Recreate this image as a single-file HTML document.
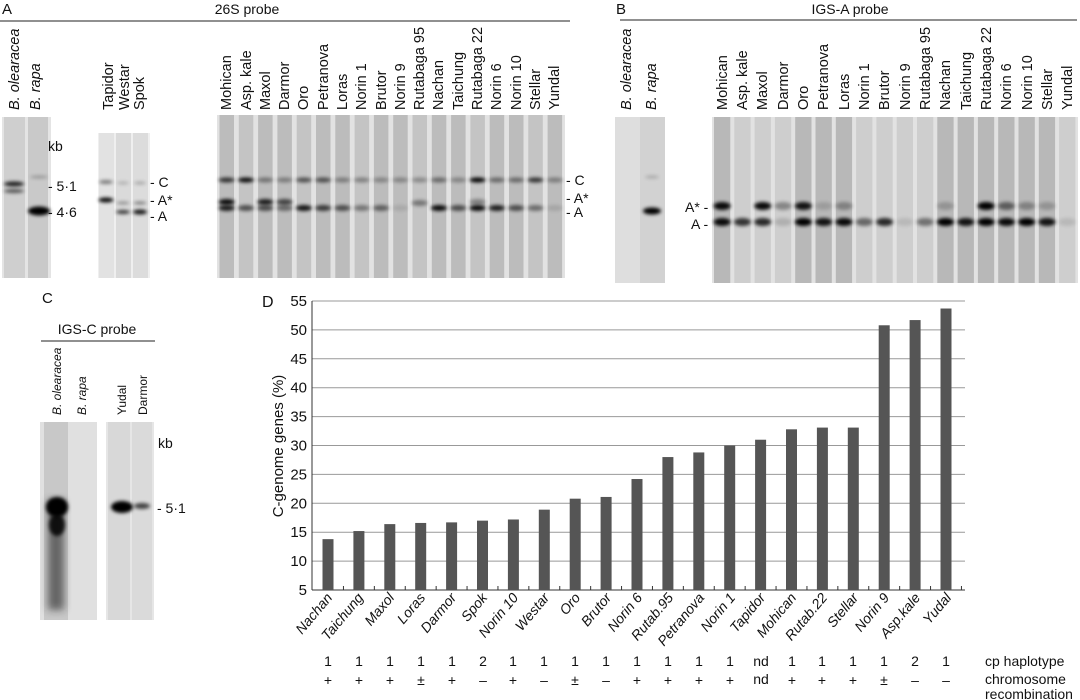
<!DOCTYPE html>
<html><head><meta charset="utf-8"><style>
html,body{margin:0;padding:0;background:#fff}
svg{display:block;font-family:"Liberation Sans",sans-serif}
</style></head><body>
<svg width="1080" height="700" viewBox="0 0 1080 700" xmlns="http://www.w3.org/2000/svg">
<defs>
<filter id="b2" x="-50%" y="-200%" width="200%" height="500%"><feGaussianBlur stdDeviation="1.8"/></filter>
<filter id="b4" x="-50%" y="-50%" width="200%" height="200%"><feGaussianBlur stdDeviation="4"/></filter>
</defs>
<g id="gels"></g>
<g id="chart"></g>
<g font-size="14" fill="#111">
<!-- Panel A -->
<text x="2" y="14" font-size="15">A</text>
<text x="247" y="14" text-anchor="middle">26S probe</text>
<line x1="0" y1="21" x2="570" y2="21" stroke="#222" stroke-width="1"/>
<g font-size="14.5">
<text transform="translate(19,110) rotate(-90)" font-style="italic">B. olearacea</text>
<text transform="translate(40,110) rotate(-90)" font-style="italic">B. rapa</text>
<text transform="translate(113,110) rotate(-90)">Tapidor</text>
<text transform="translate(129,110) rotate(-90)">Westar</text>
<text transform="translate(144,110) rotate(-90)">Spok</text>
<text transform="translate(231,110) rotate(-90)">Mohican</text>
<text transform="translate(251,110) rotate(-90)">Asp. kale</text>
<text transform="translate(270,110) rotate(-90)">Maxol</text>
<text transform="translate(289,110) rotate(-90)">Darmor</text>
<text transform="translate(308,110) rotate(-90)">Oro</text>
<text transform="translate(328,110) rotate(-90)">Petranova</text>
<text transform="translate(347,110) rotate(-90)">Loras</text>
<text transform="translate(366,110) rotate(-90)">Norin 1</text>
<text transform="translate(386,110) rotate(-90)">Brutor</text>
<text transform="translate(405,110) rotate(-90)">Norin 9</text>
<text transform="translate(424,110) rotate(-90)">Rutabaga 95</text>
<text transform="translate(443,110) rotate(-90)">Nachan</text>
<text transform="translate(463,110) rotate(-90)">Taichung</text>
<text transform="translate(482,110) rotate(-90)">Rutabaga 22</text>
<text transform="translate(501,110) rotate(-90)">Norin 6</text>
<text transform="translate(521,110) rotate(-90)">Norin 10</text>
<text transform="translate(540,110) rotate(-90)">Stellar</text>
<text transform="translate(559,110) rotate(-90)">Yundal</text>
</g>
<text x="48" y="151">kb</text>
<text x="48" y="191">- 5·1</text>
<text x="48" y="217">- 4·6</text>
<text x="150" y="187">- C</text>
<text x="150" y="205">- A*</text>
<text x="150" y="221">- A</text>
<text x="566" y="185">- C</text>
<text x="566" y="203">- A*</text>
<text x="566" y="217">- A</text>

<!-- Panel B -->
<text x="616" y="14" font-size="15">B</text>
<text x="850" y="14" text-anchor="middle">IGS-A probe</text>
<line x1="620" y1="20" x2="1077" y2="20" stroke="#222" stroke-width="1"/>
<g font-size="14.5">
<text transform="translate(631,110) rotate(-90)" font-style="italic">B. olearacea</text>
<text transform="translate(656,110) rotate(-90)" font-style="italic">B. rapa</text>
<text transform="translate(727,110) rotate(-90)">Mohican</text>
<text transform="translate(747,110) rotate(-90)">Asp. kale</text>
<text transform="translate(767,110) rotate(-90)">Maxol</text>
<text transform="translate(788,110) rotate(-90)">Darmor</text>
<text transform="translate(808,110) rotate(-90)">Oro</text>
<text transform="translate(828,110) rotate(-90)">Petranova</text>
<text transform="translate(849,110) rotate(-90)">Loras</text>
<text transform="translate(869,110) rotate(-90)">Norin 1</text>
<text transform="translate(889,110) rotate(-90)">Brutor</text>
<text transform="translate(910,110) rotate(-90)">Norin 9</text>
<text transform="translate(930,110) rotate(-90)">Rutabaga 95</text>
<text transform="translate(950,110) rotate(-90)">Nachan</text>
<text transform="translate(971,110) rotate(-90)">Taichung</text>
<text transform="translate(991,110) rotate(-90)">Rutabaga 22</text>
<text transform="translate(1011,110) rotate(-90)">Norin 6</text>
<text transform="translate(1032,110) rotate(-90)">Norin 10</text>
<text transform="translate(1052,110) rotate(-90)">Stellar</text>
<text transform="translate(1072,110) rotate(-90)">Yundal</text>
</g>
<text x="685" y="212">A* -</text>
<text x="691" y="229">A -</text>

<!-- Panel C -->
<text x="42" y="303" font-size="15">C</text>
<text x="97" y="334" text-anchor="middle">IGS-C probe</text>
<line x1="41" y1="341" x2="155" y2="341" stroke="#222" stroke-width="1"/>
<g font-size="12">
<text transform="translate(61,415) rotate(-90)" font-style="italic">B. olearacea</text>
<text transform="translate(86,415) rotate(-90)" font-style="italic">B. rapa</text>
<text transform="translate(126,415) rotate(-90)">Yudal</text>
<text transform="translate(147,415) rotate(-90)">Darmor</text>
</g>
<text x="158" y="448">kb</text>
<text x="157" y="513">- 5·1</text>

<!-- Panel D -->
<text x="262" y="307" font-size="16">D</text>
<text transform="translate(283,446) rotate(-90)" text-anchor="middle" font-size="15">C-genome genes (%)</text>
<g id="yt" text-anchor="end" font-size="15"></g>
<g font-style="italic" text-anchor="end">
<text transform="translate(333,598) rotate(-50)">Nachan</text>
<text transform="translate(364,598) rotate(-50)">Taichung</text>
<text transform="translate(395,598) rotate(-50)">Maxol</text>
<text transform="translate(426,598) rotate(-50)">Loras</text>
<text transform="translate(457,598) rotate(-50)">Darmor</text>
<text transform="translate(488,598) rotate(-50)">Spok</text>
<text transform="translate(519,598) rotate(-50)">Norin 10</text>
<text transform="translate(550,598) rotate(-50)">Westar</text>
<text transform="translate(581,598) rotate(-50)">Oro</text>
<text transform="translate(612,598) rotate(-50)">Brutor</text>
<text transform="translate(643,598) rotate(-50)">Norin 6</text>
<text transform="translate(674,598) rotate(-50)">Rutab.95</text>
<text transform="translate(705,598) rotate(-50)">Petranova</text>
<text transform="translate(736,598) rotate(-50)">Norin 1</text>
<text transform="translate(766,598) rotate(-50)">Tapidor</text>
<text transform="translate(797,598) rotate(-50)">Mohican</text>
<text transform="translate(828,598) rotate(-50)">Rutab.22</text>
<text transform="translate(859,598) rotate(-50)">Stellar</text>
<text transform="translate(890,598) rotate(-50)">Norin 9</text>
<text transform="translate(921,598) rotate(-50)">Asp.kale</text>
<text transform="translate(952,598) rotate(-50)">Yudal</text>
</g>
<g text-anchor="middle">
<text x="328" y="666">1</text><text x="359" y="666">1</text><text x="390" y="666">1</text><text x="421" y="666">1</text><text x="452" y="666">1</text><text x="483" y="666">2</text><text x="513" y="666">1</text><text x="544" y="666">1</text><text x="575" y="666">1</text><text x="606" y="666">1</text><text x="637" y="666">1</text><text x="668" y="666">1</text><text x="699" y="666">1</text><text x="730" y="666">1</text><text x="761" y="666">nd</text><text x="792" y="666">1</text><text x="822" y="666">1</text><text x="853" y="666">1</text><text x="884" y="666">1</text><text x="915" y="666">2</text><text x="946" y="666">1</text>
<text x="328" y="685">+</text><text x="359" y="685">+</text><text x="390" y="685">+</text><text x="421" y="685">±</text><text x="452" y="685">+</text><text x="483" y="685">–</text><text x="513" y="685">+</text><text x="544" y="685">–</text><text x="575" y="685">±</text><text x="606" y="685">–</text><text x="637" y="685">+</text><text x="668" y="685">+</text><text x="699" y="685">+</text><text x="730" y="685">+</text><text x="761" y="684">nd</text><text x="792" y="685">+</text><text x="822" y="685">+</text><text x="853" y="685">+</text><text x="884" y="685">±</text><text x="915" y="685">–</text><text x="946" y="685">–</text>
</g>
<text x="985" y="666">cp haplotype</text>
<text x="985" y="684">chromosome</text>
<text x="985" y="699">recombination</text>
</g>
</svg>
<script>
var NS="http://www.w3.org/2000/svg",g=document.getElementById('gels');
function el(p,t,a){var e=document.createElementNS(NS,t);for(var k in a)e.setAttribute(k,a[k]);p.appendChild(e);return e;}
function lane(x,w,y,h,c){el(g,'rect',{x:x,y:y,width:w,height:h,fill:c});}
function band(cx,cy,w,h,o){el(g,'ellipse',{cx:cx,cy:cy,rx:w/2,ry:h/2,fill:'#000',opacity:o,filter:'url(#b2)'});}
lane(2,49,117,161,'#e4e4e4');lane(4,21,117,161,'#cfcfcf');lane(28,20,117,161,'#c9c9c9');
band(14,184,20,5,.85);band(14,191,20,4,.6);band(39,177,18,3,.25);band(39,211,22,9,1);
lane(98,52,133,145,'#efefef');lane(99,15,133,145,'#e2e2e2');lane(116,15,133,145,'#dadada');lane(133,15,133,145,'#dcdcdc');
band(106,182,14,4,.45);band(106,200,15,5,.95);band(123,183,12,3,.2);band(123,203,13,3,.35);band(123,212,14,4,.75);band(140,183,12,3,.25);band(140,203,13,3,.45);band(140,212,14,5,.9);
var A=[[.75,.95,.85],[.95,0,.6],[.4,.85,.6],[.35,.65,.45],[.6,0,.9],[.6,0,.7],[.35,0,.6],[.35,0,.4],[.3,0,.5],[.3,0,.1],[.3,0,.4],[.45,0,.95],[.3,0,.6],[1,.35,.95],[.45,0,.85],[.45,0,.6],[.75,0,.45],[.35,0,.12]];
lane(217,348,115,163,'#e2e2e2');
for(var i=0;i<18;i++){var x=217+19.3*i,c=x+9.65;lane(x+2.5,14.5,115,163,i%3==1?'#c4c4c4':'#bcbcbc');
band(c,180,16,5,A[i][0]);if(A[i][1])band(c,202,16,6,A[i][1]);band(c,i==10?203:208,16,6,A[i][2]);}
lane(615,25,117,166,'#dedede');lane(640,25,117,166,'#d2d2d2');band(652,211,18,7,1);band(652,177,14,3,.2);
var B=[[.95,.95],[0,.75],[.95,.8],[.35,.15],[.9,1],[.15,.9],[.3,.95],[0,.5],[0,.8],[0,.1],[0,.45],[.2,1],[0,.9],[1,1],[.5,.95],[.3,1],[.2,.9],[0,.1]];
lane(712,366,117,166,'#e2e2e2');
for(i=0;i<18;i++){x=712+20.3*i;c=x+10.15;lane(x+2,16.3,117,166,B[i][1]>.85?'#b8b8b8':'#cecece');
if(B[i][0])band(c,206,17,8,B[i][0]);band(c,222,17,8,B[i][1]);}
lane(40,57,422,198,'#e0e0e0');lane(44,24,422,198,'#c8c8c8');lane(106,48,422,198,'#e6e6e6');lane(108,22,422,198,'#d8d8d8');lane(132,20,422,198,'#dadada');
el(g,'rect',{x:48,y:500,width:16,height:110,fill:'#222',opacity:.6,filter:'url(#b4)'});
band(57,507,22,20,1);band(57,525,16,22,.85);band(122,507,22,12,1);band(142,506,16,6,.7);
var ch=document.getElementById('chart'),yt=document.getElementById('yt');
function Y(v){return 590-(v-5)*5.78;}
for(var v=5;v<=55;v+=5){var y=Y(v);el(ch,'line',{x1:312,x2:965,y1:y,y2:y,stroke:'#999','stroke-width':1});
var t=el(yt,'text',{x:307,y:y+5});t.textContent=v;}
el(ch,'line',{x1:312,x2:312,y1:Y(55),y2:590,stroke:'#333'});
el(ch,'line',{x1:312,x2:965,y1:590,y2:590,stroke:'#333'});
var vals=[13.8,15.2,16.4,16.6,16.7,17.0,17.2,18.9,20.8,21.1,24.2,28.0,28.8,30.0,31.0,32.8,33.1,33.1,50.8,51.7,53.7];
for(i=0;i<21;i++){c=328+30.9*i;el(ch,'rect',{x:c-5.5,y:Y(vals[i]),width:11,height:590-Y(vals[i]),fill:'#555'});
el(ch,'line',{x1:c+15.45,x2:c+15.45,y1:586,y2:590,stroke:'#333'});}
</script>
</body></html>
